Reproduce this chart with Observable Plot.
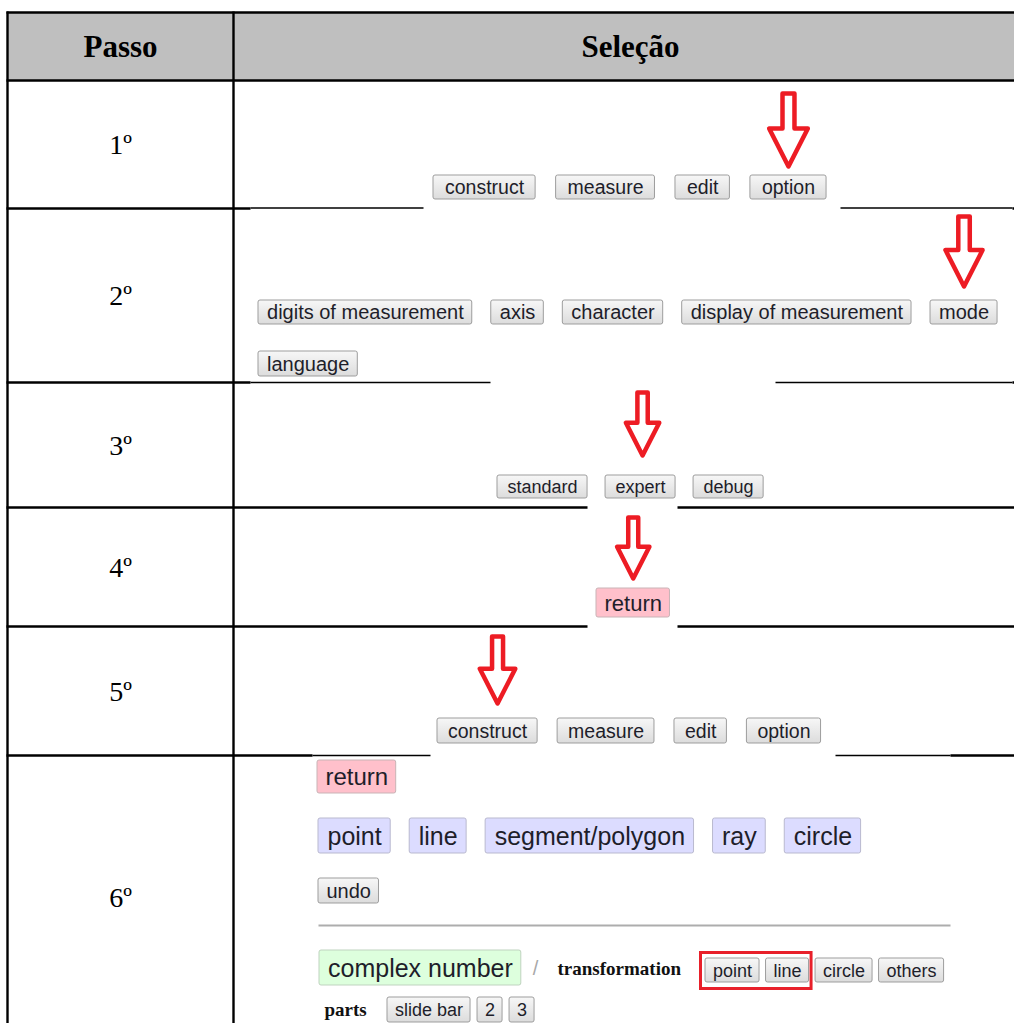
<!DOCTYPE html>
<html><head><meta charset="utf-8">
<script src="https://cdn.jsdelivr.net/npm/d3@7"></script>
<script src="https://cdn.jsdelivr.net/npm/@observablehq/plot@0.6"></script>
<style>body{margin:0;background:#fff}#chart svg{display:block}</style>
</head><body><div id="chart"></div>
<script>
// ---------- DATA (content only) ----------
const headers = ["Passo", "Seleção"];
const steps = ["1º", "2º", "3º", "4º", "5º", "6º"];
const row1Buttons = ["construct", "measure", "edit", "option"];
const row2Buttons = ["digits of measurement", "axis", "character", "display of measurement", "mode"];
const row2Buttons2 = ["language"];
const row3Buttons = ["standard", "expert", "debug"];
const row4Buttons = ["return"];
const row5Buttons = ["construct", "measure", "edit", "option"];
const row6Return = ["return"];
const row6Shapes = ["point", "line", "segment/polygon", "ray", "circle"];
const row6Undo = ["undo"];
const row6Complex = ["complex number"];
const row6Transform = ["point", "line", "circle", "others"];
const row6Parts = ["slide bar", "2", "3"];
const selectedPerStep = ["option", "mode", "expert", "return", "construct"];
const highlighted = ["point", "line"];
const sideLabels = ["/", "transformation", "parts"];

// ---------- LAYOUT ----------
const W = 1014, H = 1023;
const SANS = "Liberation Sans, Arial, sans-serif";
const SERIF = "Liberation Serif, Times New Roman, serif";
const table = {left: 7, col: 233, headRight: 1027, top: 12, headBottom: 80,
  rowBottoms: [208, 382, 507, 626, 755, 1039]};
const groups = [
  {key: "r1", labels: row1Buttons, x: 433, y: 175, h: 24, size: 19.5, pad: 11.5, gap: 20.5, style: "gray"},
  {key: "r2a", labels: row2Buttons, x: 258, y: 300, h: 24, size: 20, pad: 8.5, gap: 19, style: "gray"},
  {key: "r2b", labels: row2Buttons2, x: 258, y: 351, h: 25, size: 20, pad: 8.5, gap: 19, style: "gray"},
  {key: "r3", labels: row3Buttons, x: 497, y: 475, h: 23, size: 18, pad: 10, gap: 18, style: "gray"},
  {key: "r4", labels: row4Buttons, x: 596, y: 588, h: 29, size: 22, pad: 8, gap: 0, style: "pink"},
  {key: "r5", labels: row5Buttons, x: 437, y: 718, h: 25, size: 19.5, pad: 10.5, gap: 20, style: "gray"},
  {key: "r6a", labels: row6Return, x: 317, y: 760, h: 33, size: 24, pad: 8, gap: 0, style: "pink"},
  {key: "r6b", labels: row6Shapes, x: 318, y: 818, h: 35, size: 25, pad: 9, gap: 19, style: "lav"},
  {key: "r6c", labels: row6Undo, x: 318, y: 878, h: 25, size: 20, pad: 8, gap: 0, style: "gray"},
  {key: "r6d", labels: row6Complex, x: 319, y: 950, h: 35, size: 25, pad: 8.5, gap: 0, style: "green"},
  {key: "r6e", labels: row6Transform, x: 705, y: 958, h: 24, size: 18, pad: 7.5, gap: 6.5, style: "gray"},
  {key: "r6f", labels: row6Parts, x: 387, y: 997, h: 25, size: 18, pad: 7.5, gap: 7, style: "gray"}
];
const arrowLayout = [
  {group: "r1", top: 93, tip: 166, dx: 0},
  {group: "r2a", top: 216, tip: 286, dx: 0},
  {group: "r3", top: 392, tip: 455, dx: 2},
  {group: "r4", top: 517, tip: 578, dx: 0},
  {group: "r5", top: 636, tip: 703, dx: 10}
];
const T = 2.4, t = 1.4;
const borderLayout = [
  [6, 12, 1014, 12, T], [6, 80, 1014, 80, T],
  [7, 11, 7, 1023, T], [233, 11, 233, 1023, T],
  [6, 208, 250, 208, T], [250, 207.5, 423, 207.5, t], [840, 207.5, 1012, 207.5, t], [1012, 208, 1014, 208, T],
  [6, 382, 250, 382, T], [250, 382, 490, 382, t], [775, 382, 1012, 382, t], [1012, 382, 1014, 382, T],
  [6, 507, 587, 507, T], [677, 507, 1014, 507, T],
  [6, 626, 587, 626, T], [677, 626, 1014, 626, T],
  [6, 755, 312, 755, T], [312, 755, 430, 755, t], [835, 755, 950, 755, t], [950, 755, 1014, 755, T]
];
const sideLayout = [
  {x: 535, y: 968, size: 20, weight: "normal", family: SANS, fill: "#a8a8a8", anchor: "middle"},
  {x: 557, y: 968, size: 19, weight: "bold", family: SERIF, fill: "#111", anchor: "start"},
  {x: 324, y: 1009, size: 19, weight: "bold", family: SERIF, fill: "#111", anchor: "start"}
];

// ---------- BUILD ----------
const ctx = document.createElement("canvas").getContext("2d");
function measure(s, size) { ctx.font = `${size}px "Liberation Sans", Arial`; return ctx.measureText(s).width; }

const buttons = [];
const byGroup = {};
for (const g of groups) {
  let x = g.x;
  byGroup[g.key] = g.labels.map(label => {
    const w = measure(label, g.size) + 2 * g.pad;
    const b = {label, x1: x, x2: x + w, y1: g.y, y2: g.y + g.h, size: g.size, style: g.style};
    x += w + g.gap;
    buttons.push(b);
    return b;
  });
}

const arrowPts = [];
arrowLayout.forEach((a, i) => {
  const b = byGroup[a.group].find(d => d.label === selectedPerStep[i]);
  const cx = (b.x1 + b.x2) / 2 + a.dx;
  const h = a.tip - a.top, sw = 0.082 * h, hw = 0.265 * h, ht = a.top + 0.48 * h;
  [[cx - sw, a.top], [cx + sw, a.top], [cx + sw, ht], [cx + hw, ht], [cx, a.tip],
   [cx - hw, ht], [cx - sw, ht], [cx - sw, a.top], [cx + sw, a.top]]
    .forEach(([x, y]) => arrowPts.push({id: i, x, y}));
});

const hl = byGroup["r6e"].filter(d => highlighted.includes(d.label));
const redBox = [{x1: hl[0].x1 - 4.5, x2: hl[hl.length - 1].x2 + 2.5, y1: hl[0].y1 - 5.5, y2: hl[0].y2 + 6.5}];

const rowMid = table.rowBottoms.map((b, i) => ((i ? table.rowBottoms[i - 1] : table.headBottom) + b) / 2);
const stepData = steps.map((s, i) => ({s, x: (table.left + table.col) / 2, y: rowMid[i]}));
const headData = [
  {s: headers[0], x: (table.left + table.col) / 2, y: (table.top + table.headBottom) / 2},
  {s: headers[1], x: (table.col + table.headRight) / 2, y: (table.top + table.headBottom) / 2}
];
const borders = borderLayout.map(([x1, y1, x2, y2, w]) => ({x1, y1, x2, y2, w}));
const side = sideLabels.map((s, i) => ({s, ...sideLayout[i]}));

const styles = {
  gray: {fill: "url(#btnGrad)", stroke: "#9d9d9d"},
  pink: {fill: "#ffc0cb", stroke: "#c9b3b6"},
  lav: {fill: "#dcdcff", stroke: "#b9b9cf"},
  green: {fill: "#ddffdd", stroke: "#bfd3bf"}
};

const marks = [
  Plot.rect([{}], {x1: table.left, x2: W, y1: table.top, y2: table.headBottom, fill: "#bfbfbf"}),
  ...borders.map(d => Plot.link([d], {x1: "x1", y1: "y1", x2: "x2", y2: "y2", stroke: "#000", strokeWidth: d.w})),
  Plot.text(headData, {x: "x", y: "y", text: "s", fontFamily: SERIF, fontWeight: "bold", fontSize: 31, fill: "#000", lineAnchor: "middle", dy: 1}),
  Plot.text(stepData, {x: "x", y: "y", text: "s", fontFamily: SERIF, fontSize: 28, fill: "#000", lineAnchor: "middle", dy: 1}),
  Plot.link([{x1: 318, x2: 950, y: 925}], {x1: "x1", x2: "x2", y1: "y", y2: "y", stroke: "#adadad", strokeWidth: 2}),
  ...Object.entries(styles).map(([k, s]) =>
    Plot.rect(buttons.filter(b => b.style === k), {x1: "x1", x2: "x2", y1: "y1", y2: "y2", fill: s.fill, stroke: s.stroke, strokeWidth: 1, rx: 2})),
  Plot.text(buttons, {x: d => (d.x1 + d.x2) / 2, y: d => (d.y1 + d.y2) / 2, text: "label", fontSize: "size", fontFamily: SANS, fill: "#1e1e2a", lineAnchor: "middle", dy: 0.5}),
  Plot.rect(redBox, {x1: "x1", x2: "x2", y1: "y1", y2: "y2", fill: "none", stroke: "#e8202a", strokeWidth: 3}),
  Plot.line(arrowPts, {x: "x", y: "y", z: "id", stroke: "#ed1c24", strokeWidth: 4.5, strokeLinejoin: "round", curve: "linear"}),
  ...side.map(d => Plot.text([d], {x: "x", y: "y", text: "s", fontSize: d.size, fontWeight: d.weight, fontFamily: d.family, fill: d.fill, textAnchor: d.anchor, lineAnchor: "middle"}))
];

const chart = Plot.plot({
  width: W, height: H, margin: 0,
  x: {domain: [0, W], range: [0, W], axis: null},
  y: {domain: [0, H], range: [0, H], axis: null},
  style: {background: "#fff", overflow: "hidden"},
  marks
});
const svg = d3.select(chart);
const defs = svg.insert("defs", ":first-child");
const grad = defs.append("linearGradient").attr("id", "btnGrad").attr("x1", 0).attr("y1", 0).attr("x2", 0).attr("y2", 1);
grad.append("stop").attr("offset", "0%").attr("stop-color", "#f7f7f7");
grad.append("stop").attr("offset", "100%").attr("stop-color", "#dcdcdc");
document.getElementById("chart").appendChild(chart);
</script></body></html>
